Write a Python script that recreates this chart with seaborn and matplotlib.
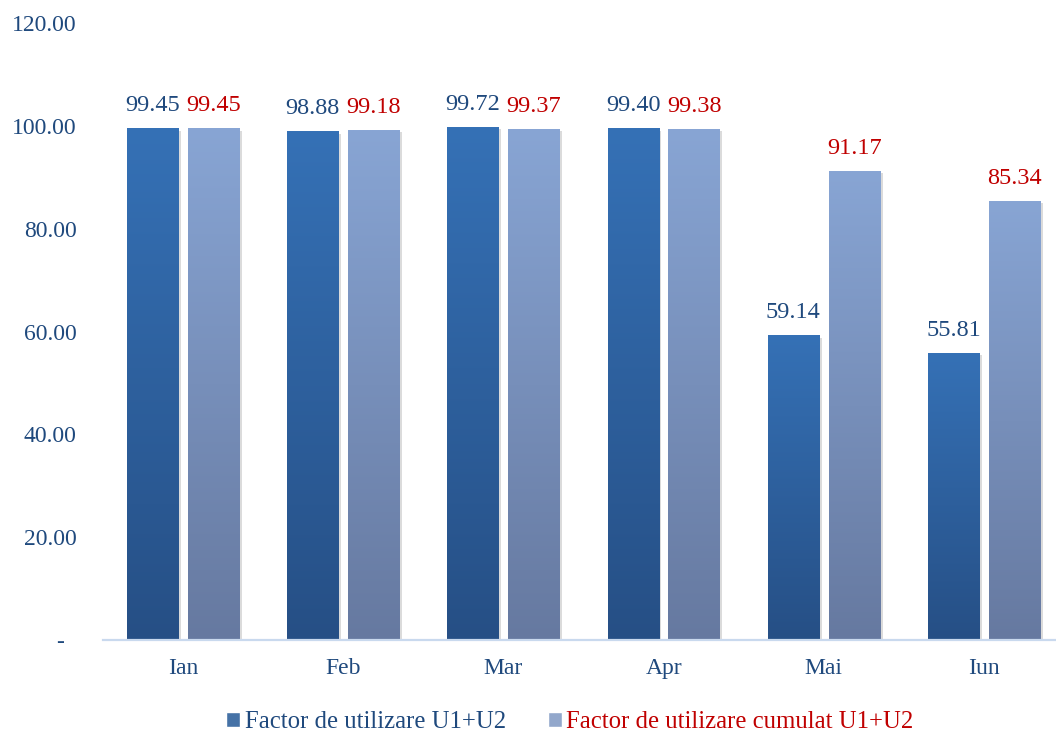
import numpy as np
import pandas as pd
import seaborn as sns
import matplotlib.pyplot as plt
from matplotlib.colors import LinearSegmentedColormap
from matplotlib.ticker import FuncFormatter
from matplotlib import patheffects as pe

# data
months = ["Ian", "Feb", "Mar", "Apr", "Mai", "Iun"]
factor = [99.45, 98.88, 99.72, 99.40, 59.14, 55.81]
factor_cumulat = [99.45, 99.18, 99.37, 99.38, 91.17, 85.34]
series = ["Factor de utilizare U1+U2", "Factor de utilizare cumulat U1+U2"]

df = pd.DataFrame({
    "luna": months * 2,
    "valoare": factor + factor_cumulat,
    "serie": [series[0]] * len(months) + [series[1]] * len(months),
})

# colours (top, bottom) of the gradient fill
grad_cols = [("#3571b6", "#264f85"), ("#88a5d4", "#6679a0")]
text_blue = "#1f497d"
text_red = "#c00000"

sns.set_theme(style="white")
plt.rcParams["font.family"] = ["Liberation Serif", "DejaVu Serif"]

fig = plt.figure(figsize=(10.56, 7.35), dpi=100)
ax = fig.add_axes([103 / 1056, 1 - 640 / 735, 961 / 1056, 617 / 735])

sns.barplot(data=df, x="luna", y="valoare", hue="serie", order=months,
            hue_order=series, palette=[c[0] for c in grad_cols],
            width=0.76, gap=0.16, ax=ax, legend=True)

# gradient fill + soft shadow
for cont, (top, bot) in zip(ax.containers, grad_cols):
    cmap = LinearSegmentedColormap.from_list("g", [bot, top])
    for bar in cont:
        x0, y0 = bar.get_x(), bar.get_y()
        w, h = bar.get_width(), bar.get_height()
        bar.set_edgecolor("none")
        bar.set_path_effects([pe.SimplePatchShadow(offset=(2, -1.5), shadow_rgbFace="#999999", alpha=0.35),
                              pe.Normal()])
        ax.imshow(np.linspace(0, 1, 256).reshape(-1, 1), extent=[x0, x0 + w, y0, y0 + h],
                  origin="lower", cmap=cmap, aspect="auto", zorder=bar.get_zorder() + 0.1)

ax.set_xlim(-0.5, 5.5)
ax.set_ylim(0, 120)
ax.set_yticks(np.arange(0, 121, 20))
ax.yaxis.set_major_formatter(FuncFormatter(lambda v, p: "-  " if v == 0 else f"{v:.2f}"))

# data labels
for cont, col in zip(ax.containers, [text_blue, text_red]):
    ax.bar_label(cont, fmt="%.2f", padding=9, color=col, fontsize=17.5)

ax.set_xlabel("")
ax.set_ylabel("")
for s in ["top", "right", "left"]:
    ax.spines[s].set_visible(False)
ax.spines["bottom"].set_color("#c9d9ee")
ax.spines["bottom"].set_linewidth(1.6)
ax.tick_params(axis="both", length=0, labelsize=17, colors=text_blue)
ax.tick_params(axis="y", pad=19)
ax.tick_params(axis="x", pad=13)

# legend
handles, labels = ax.get_legend_handles_labels()
ax.get_legend().remove()
leg = fig.legend(handles, labels, loc="center", bbox_to_anchor=(570 / 1056, 1 - 722 / 735),
                 ncol=2, frameon=False, fontsize=17.8, handlelength=0.55, handleheight=0.55,
                 handletextpad=0.2, columnspacing=1.7)
for t, col in zip(leg.get_texts(), [text_blue, text_red]):
    t.set_color(col)

fig.savefig("out.png", dpi=100)
